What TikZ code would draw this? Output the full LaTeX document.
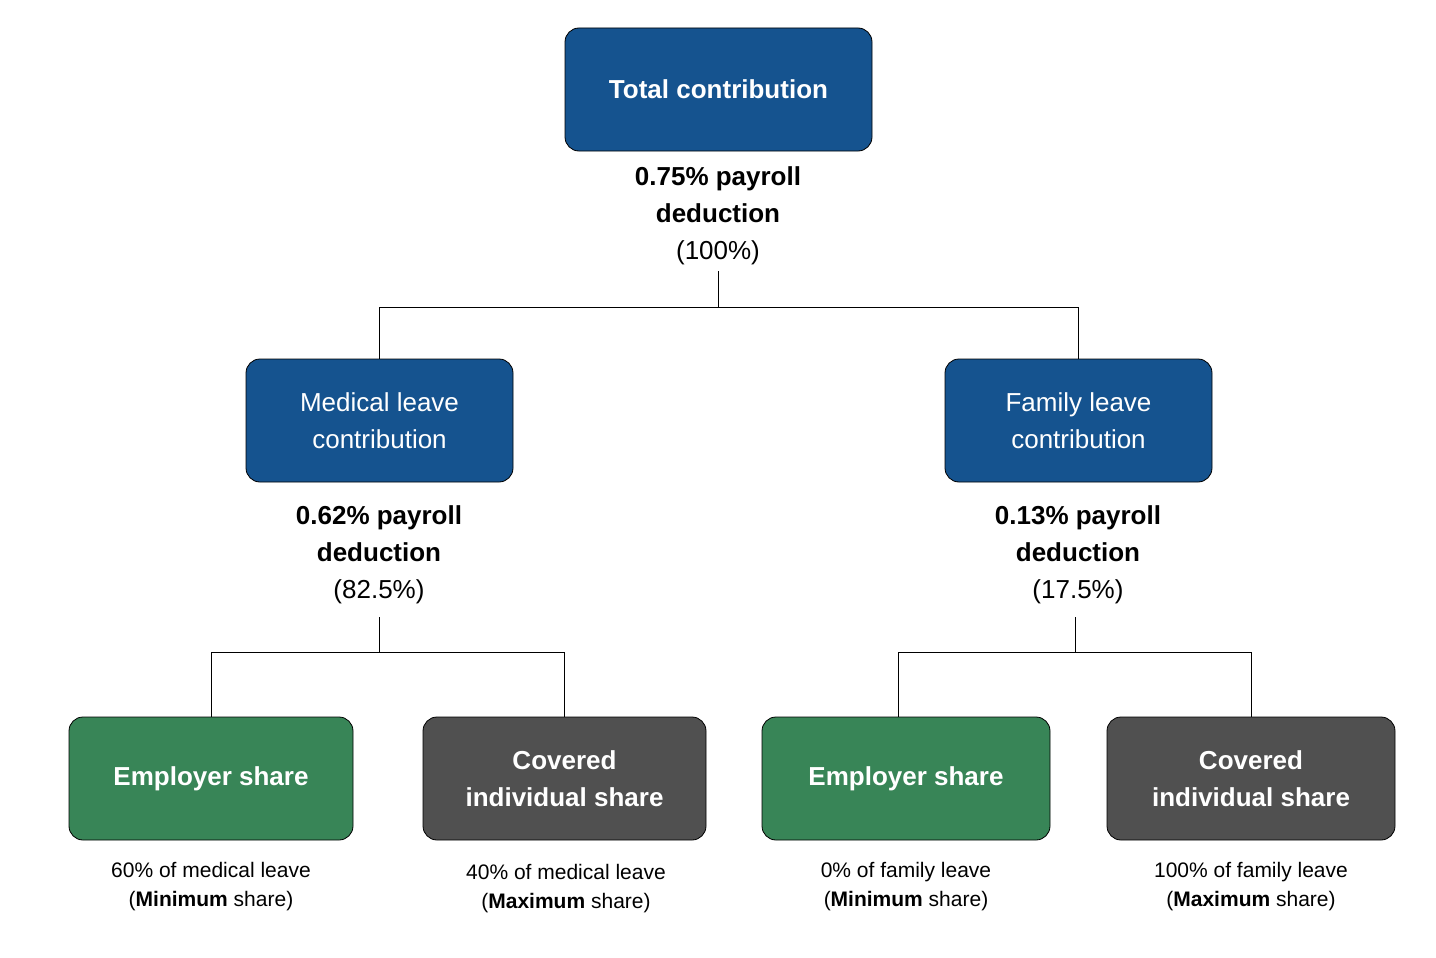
\documentclass[tikz,border=0pt]{standalone}
\usepackage{fontspec}
\setmainfont{Liberation Sans}
\definecolor{cblue}{HTML}{15538F}
\definecolor{cgreen}{HTML}{388557}
\definecolor{cgray}{HTML}{505050}
\begin{document}
\begin{tikzpicture}[x=1pt,y=-1pt,
  box/.style={draw=black,line width=0.8pt,rounded corners=14pt,minimum height=123pt,align=center,text=white,inner sep=0pt},
  big/.style={font=\fontsize{26}{37}\selectfont},
  lab/.style={align=center,font=\fontsize{26}{37}\selectfont,inner sep=0pt},
  captxt/.style={align=center,font=\fontsize{21}{29}\selectfont,inner sep=0pt},
  conn/.style={draw=black,line width=0.8pt}]
\useasboundingbox (0,0) rectangle (1436,958);
\node[box,fill=cblue,minimum width=307pt,big,font=\bfseries\fontsize{26}{37}\selectfont] (tot) at (718.5,89.5) {Total contribution};
\node[box,fill=cblue,minimum width=267pt,big] (med) at (379.5,420.5) {Medical leave\\contribution};
\node[box,fill=cblue,minimum width=267pt,big] (fam) at (1078.5,420.5) {Family leave\\contribution};
\node[box,fill=cgreen,minimum width=284pt,font=\bfseries\fontsize{26}{37}\selectfont] (e1) at (211,778.5) {Employer share};
\node[box,fill=cgray,minimum width=283pt,font=\bfseries\fontsize{26}{37}\selectfont] (c1) at (564.5,778.5) {Covered\\individual share};
\node[box,fill=cgreen,minimum width=288pt,font=\bfseries\fontsize{26}{37}\selectfont] (e2) at (906,778.5) {Employer share};
\node[box,fill=cgray,minimum width=288pt,font=\bfseries\fontsize{26}{37}\selectfont] (c2) at (1251,778.5) {Covered\\individual share};
\node[lab] (l0) at (718,216) {\textbf{0.75\% payroll}\\\textbf{deduction}\\(100\%)};
\node[lab] (l1) at (379,555) {\textbf{0.62\% payroll}\\\textbf{deduction}\\(82.5\%)};
\node[lab] (l2) at (1078,555) {\textbf{0.13\% payroll}\\\textbf{deduction}\\(17.5\%)};
\node[captxt] (k1) at (211,887) {60\% of medical leave\\(\textbf{Minimum} share)};
\node[captxt] (k2) at (566,889) {40\% of medical leave\\(\textbf{Maximum} share)};
\node[captxt] (k3) at (906,887) {0\% of family leave\\(\textbf{Minimum} share)};
\node[captxt] (k4) at (1251,887) {100\% of family leave\\(\textbf{Maximum} share)};
\coordinate (a0) at (718,271);
\coordinate (j0) at (718,307);
\coordinate (a1) at (379,617);
\coordinate (j1) at (379,652);
\coordinate (a2) at (1075,617);
\coordinate (j2) at (1075,652);
\draw[conn] (a0) -- (j0);
\draw[conn] (j0) -| (med.north);
\draw[conn] (j0) -| (fam.north);
\draw[conn] (a1) -- (j1);
\draw[conn] (j1) -| (e1.north);
\draw[conn] (j1) -| (c1.north);
\draw[conn] (a2) -- (j2);
\draw[conn] (j2) -| ([xshift=-8pt]e2.north);
\draw[conn] (j2) -| (c2.north);
\end{tikzpicture}
\end{document}
